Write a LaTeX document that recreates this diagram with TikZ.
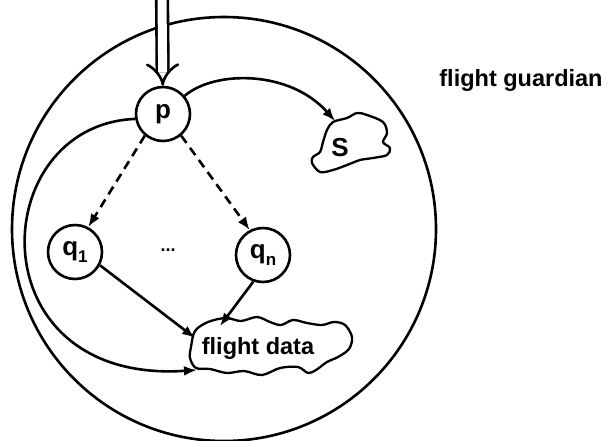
\documentclass[tikz,border=0pt]{standalone}
\usepackage{fontspec}
\setmainfont{Liberation Sans}
\usetikzlibrary{arrows.meta}
\begin{document}
\begin{tikzpicture}[x=1pt,y=-1pt,line width=2.6pt,
  statenode/.style={draw,circle,minimum size=54pt,inner sep=0pt,font=\fontsize{26}{26}\selectfont\bfseries},
  lbl/.style={font=\fontsize{23.5}{23.5}\selectfont\bfseries,inner sep=0pt},
  arr/.style={-{Latex[length=13pt,width=10pt]}},
  darr/.style={arr,dash pattern=on 9pt off 6pt},
  cloud/.style={line width=2.3pt,line join=round}]
\useasboundingbox (0,0) rectangle (608,440);
% outer boundary
\node[draw,circle,minimum size=424pt,inner sep=0pt] (guard) at (224,229) {};
% nodes
\node[statenode] (p) at (163,114) {p};
\node[statenode] (q1) at (75,252) {q\raisebox{-0.25em}{\fontsize{17}{17}\selectfont 1}};
\node[statenode] (qn) at (263,255) {q\raisebox{-0.25em}{\fontsize{17}{17}\selectfont n}};
\node[font=\fontsize{18}{18}\selectfont\bfseries] (dots) at (168,250) {...};
\node[lbl] (guardlbl) at (521,80) {flight guardian};
\node[lbl] (fd) at (258,348) {flight data};
\node[font=\fontsize{26}{26}\selectfont\bfseries] (S) at (340,148) {S};
% clouds
\draw[cloud] plot[smooth cycle,tension=0.55] coordinates {
 (333,122) (347,118) (357,113) (367,115) (383,122) (387,133) (383,142)
 (390,148) (387,155) (373,158) (360,160) (347,165) (333,170) (320,172)
 (312,163) (313,157) (320,152) (323,142) (327,130)};
\draw[cloud] plot[smooth cycle,tension=0.55] coordinates {
 (191,347) (195,331) (208,322) (226,318) (241,321) (257,317) (270,322)
 (281,325) (293,320) (307,323) (322,325) (334,322) (345,325) (352,337)
 (349,349) (338,357) (327,362) (316,370) (308,373) (298,367) (280,368)
 (262,375) (244,371) (227,373) (210,369) (196,368) (190,358)};
% connector end points
\coordinate (sTip) at (335,121);
\coordinate (fdA) at (195,338);
\coordinate (fdB) at (220,326);
\coordinate (fdC) at (197,370);
\coordinate (in) at (162,-5);
% connectors
\draw[double distance=9pt,-{Implies}] (in) -- (p);
\draw[arr] (p.40) .. controls (215,70) and (290,70) .. (sTip);
\draw[darr] (p.230) -- (q1.62);
\draw[darr] (p.310) -- (qn.118);
\draw[arr] (q1.-28) -- (fdA);
\draw[arr] (qn.-110) -- (fdB);
\draw[arr] (p.190) .. controls (-15,125) and (-25,385) .. (fdC);
\end{tikzpicture}
\end{document}
